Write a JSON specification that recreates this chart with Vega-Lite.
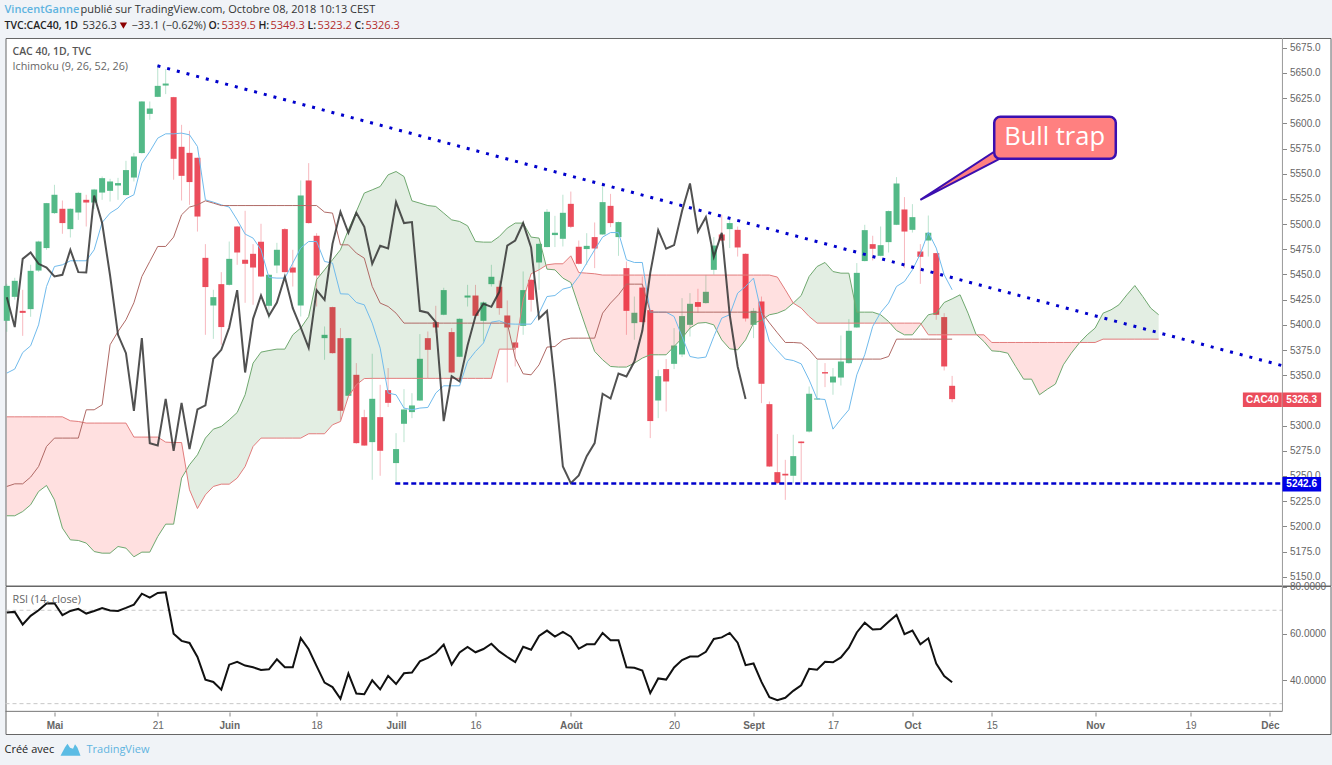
{"$schema":"https://vega.github.io/schema/vega-lite/v6.json","background":"#f0f3f7","padding":{"left":1.5,"right":1,"top":0,"bottom":0},"spacing":0,"bounds":"flush","config":{"axis":{"disable":true},"legend":{"disable":true},"text":{"font":"Open Sans"}},
"datasets":{"d":[
{"i":0,"o":5404,"h":5440.7,"l":5393.1,"c":5438.7,"t":5352.1,"j":5239.6,"k":5427.5,"r":69},
{"i":1,"o":5427.8,"h":5446.7,"l":5425,"c":5443.7,"t":5356.1,"j":5242.2,"k":5397.8,"r":69.3},
{"i":2,"o":5413.9,"h":5434.8,"l":5389.1,"c":5411.9,"t":5372.5,"j":5242.2,"k":5465.5,"r":63.9},
{"i":3,"o":5415.6,"h":5459.6,"l":5408,"c":5453.6,"t":5379.2,"j":5248.9,"k":5471.8,"r":67.6},
{"i":4,"o":5453.9,"h":5483.5,"l":5452.6,"c":5482.7,"t":5400,"j":5259.4,"k":5460.6,"r":70},
{"i":5,"o":5476.2,"h":5521,"l":5474.5,"c":5520.8,"t":5438.1,"j":5279.3,"k":5456.9,"r":72.9},
{"i":6,"o":5510.9,"h":5539,"l":5510,"c":5529.1,"t":5457.9,"j":5287.6,"k":5448,"r":73},
{"i":7,"o":5515.2,"h":5523.4,"l":5490.4,"c":5501,"t":5459.6,"j":5287.6,"k":5449.7,"r":67.9},
{"i":8,"o":5495,"h":5515.5,"l":5486.7,"c":5515.2,"t":5463.6,"j":5287.6,"k":5474.5,"r":69.7},
{"i":9,"o":5511.5,"h":5532,"l":5504.2,"c":5531,"t":5463.6,"j":5287.6,"k":5452.3,"r":70.6},
{"i":10,"o":5524.1,"h":5529.1,"l":5497.6,"c":5521.4,"t":5463.6,"j":5315.7,"k":5451.9,"r":68.6},
{"i":11,"o":5521.4,"h":5535,"l":5515,"c":5534.3,"t":5474.5,"j":5315.7,"k":5528.4,"r":69.7},
{"i":12,"o":5531.3,"h":5547.2,"l":5524.1,"c":5545.6,"t":5501.6,"j":5320.6,"k":5501,"r":71},
{"i":13,"o":5533,"h":5544.9,"l":5522.4,"c":5542.3,"t":5510.9,"j":5380.2,"k":5449,"r":69.9},
{"i":14,"o":5538.3,"h":5545.9,"l":5524.1,"c":5540.7,"t":5515.9,"j":5393.4,"k":5390.1,"r":69.7},
{"i":15,"o":5528.8,"h":5562.8,"l":5528.5,"c":5553.6,"t":5525.1,"j":5405,"k":5371.9,"r":71},
{"i":16,"o":5546.2,"h":5570.7,"l":5542.3,"c":5567.1,"t":5529.1,"j":5421.9,"k":5314.7,"r":72.4},
{"i":17,"o":5570.5,"h":5622,"l":5570,"c":5621.7,"t":5560.5,"j":5448,"k":5386.8,"r":77.1},
{"i":18,"o":5609.4,"h":5621.7,"l":5603.5,"c":5614.7,"t":5572,"j":5462.9,"k":5282.6,"r":75.4},
{"i":19,"o":5626.3,"h":5658.1,"l":5626,"c":5637.2,"t":5585.3,"j":5477.8,"k":5280.2,"r":77.4},
{"i":20,"o":5637.5,"h":5653.8,"l":5629,"c":5639.5,"t":5589.6,"j":5477.8,"k":5326.6,"r":77.7},
{"i":21,"o":5626,"h":5626.3,"l":5544,"c":5564.8,"t":5589.6,"j":5487.1,"k":5275,"r":60},
{"i":22,"o":5576.7,"h":5598.5,"l":5523.4,"c":5547.9,"t":5590.3,"j":5509.2,"k":5322.6,"r":56.9},
{"i":23,"o":5570.7,"h":5592.6,"l":5519.1,"c":5541.7,"t":5588.6,"j":5516.9,"k":5276.7,"r":56},
{"i":24,"o":5565.8,"h":5566,"l":5492.6,"c":5507.5,"t":5577,"j":5519.1,"k":5316,"r":50},
{"i":25,"o":5466.5,"h":5480.1,"l":5390.1,"c":5437.5,"t":5524.1,"j":5523.1,"k":5320,"r":40.3},
{"i":26,"o":5419.2,"h":5434.8,"l":5386.1,"c":5427.5,"t":5521.8,"j":5520.8,"k":5366.3,"r":39.3},
{"i":27,"o":5440.4,"h":5452.3,"l":5380.2,"c":5397.8,"t":5519.1,"j":5518.4,"k":5375.2,"r":36},
{"i":28,"o":5439.7,"h":5482.7,"l":5439,"c":5465.5,"t":5516.9,"j":5518.4,"k":5397.4,"r":46.7},
{"i":29,"o":5497.6,"h":5498,"l":5459.6,"c":5471.8,"t":5504.2,"j":5518.4,"k":5434.5,"r":47.9},
{"i":30,"o":5464.6,"h":5513.2,"l":5421.9,"c":5460.6,"t":5490.1,"j":5518.4,"k":5352.7,"r":46.3},
{"i":31,"o":5470.5,"h":5480.1,"l":5419.9,"c":5456.9,"t":5486.1,"j":5518.4,"k":5406,"r":45.6},
{"i":32,"o":5482.4,"h":5500.3,"l":5447.5,"c":5448,"t":5474.5,"j":5518.4,"k":5429.1,"r":44.4},
{"i":33,"o":5418.9,"h":5450,"l":5405.7,"c":5449.7,"t":5447,"j":5518.4,"k":5409,"r":44.7},
{"i":34,"o":5458.9,"h":5481.4,"l":5451.3,"c":5474.5,"t":5446.4,"j":5518.4,"k":5422.2,"r":49},
{"i":35,"o":5495,"h":5496,"l":5452,"c":5452.3,"t":5446.4,"j":5518.4,"k":5447.7,"r":45.6},
{"i":36,"o":5456.9,"h":5474.5,"l":5438,"c":5451.9,"t":5461.3,"j":5518.4,"k":5416.6,"r":45.6},
{"i":37,"o":5419.2,"h":5543.3,"l":5408.3,"c":5528.4,"t":5476.2,"j":5518.4,"k":5397.4,"r":58.1},
{"i":38,"o":5543.3,"h":5560.5,"l":5500.5,"c":5501,"t":5482.7,"j":5518.4,"k":5377.2,"r":53.3},
{"i":39,"o":5488.4,"h":5491,"l":5418.2,"c":5449,"t":5482.7,"j":5518.4,"k":5434.5,"r":46.1},
{"i":40,"o":5386.8,"h":5398.4,"l":5365.3,"c":5390.1,"t":5462.9,"j":5511.9,"k":5424.8,"r":39},
{"i":41,"o":5417.6,"h":5418,"l":5371.5,"c":5371.9,"t":5461.3,"j":5510.9,"k":5480.4,"r":37.1},
{"i":42,"o":5386.8,"h":5396.8,"l":5305.8,"c":5314.7,"t":5430.8,"j":5479.4,"k":5512.2,"r":32.1},
{"i":43,"o":5329.6,"h":5387,"l":5329,"c":5386.8,"t":5430.5,"j":5479.4,"k":5491.4,"r":42.9},
{"i":44,"o":5350.4,"h":5362,"l":5282,"c":5282.6,"t":5422.2,"j":5471.2,"k":5511.2,"r":34.3},
{"i":45,"o":5308.4,"h":5315.7,"l":5280,"c":5280.2,"t":5419.9,"j":5466.2,"k":5497.3,"r":34},
{"i":46,"o":5283.6,"h":5371.3,"l":5246.2,"c":5326.6,"t":5401.7,"j":5438.1,"k":5460.6,"r":40},
{"i":47,"o":5308.4,"h":5340.5,"l":5250.2,"c":5275,"t":5376.9,"j":5421.6,"k":5478.4,"r":36.1},
{"i":48,"o":5335.2,"h":5357.1,"l":5318.4,"c":5322.6,"t":5332.3,"j":5418.2,"k":5475.8,"r":41.9},
{"i":49,"o":5262.8,"h":5292.5,"l":5242.9,"c":5276.7,"t":5330.6,"j":5411.6,"k":5521.8,"r":38.4},
{"i":50,"o":5301.8,"h":5336.2,"l":5283.6,"c":5316,"t":5317.4,"j":5401.7,"k":5501,"r":43},
{"i":51,"o":5313.4,"h":5332.2,"l":5307.4,"c":5320,"t":5315.7,"j":5401.7,"k":5502,"r":43.3},
{"i":52,"o":5324.9,"h":5390.8,"l":5324.5,"c":5366.3,"t":5317.4,"j":5401.7,"k":5413.9,"r":48.1},
{"i":53,"o":5386.8,"h":5393.4,"l":5347.1,"c":5375.2,"t":5318,"j":5401.7,"k":5412,"r":49.6},
{"i":54,"o":5402.7,"h":5418.9,"l":5392.1,"c":5397.4,"t":5332.3,"j":5401.7,"k":5402.7,"r":51.7},
{"i":55,"o":5410,"h":5436.8,"l":5409.5,"c":5434.5,"t":5339.5,"j":5401.7,"k":5304.5,"r":55.3},
{"i":56,"o":5392.8,"h":5396.8,"l":5352,"c":5352.7,"t":5339.5,"j":5401.7,"k":5349.1,"r":46.7},
{"i":57,"o":5368.3,"h":5406.5,"l":5368,"c":5406,"t":5339.5,"j":5401.7,"k":5343.8,"r":51.9},
{"i":58,"o":5427.1,"h":5439.7,"l":5418.2,"c":5429.1,"t":5363.6,"j":5401.7,"k":5379.5,"r":54.3},
{"i":59,"o":5429.1,"h":5439.7,"l":5408.5,"c":5409,"t":5373.6,"j":5401.7,"k":5408.7,"r":52},
{"i":60,"o":5404,"h":5423.2,"l":5383.5,"c":5422.2,"t":5381.9,"j":5401.7,"k":5420.9,"r":53.4},
{"i":61,"o":5440.4,"h":5459.6,"l":5438,"c":5447.7,"t":5402.7,"j":5401.7,"k":5417.9,"r":55.7},
{"i":62,"o":5437.8,"h":5444,"l":5410,"c":5416.6,"t":5404,"j":5401.7,"k":5432.8,"r":52.4},
{"i":63,"o":5409.3,"h":5424.2,"l":5342.8,"c":5397.4,"t":5401,"j":5401.7,"k":5478.7,"r":50},
{"i":64,"o":5382.5,"h":5383,"l":5358.7,"c":5377.2,"t":5400.7,"j":5367,"k":5483.7,"r":47.8},
{"i":65,"o":5399,"h":5453,"l":5390.1,"c":5434.5,"t":5400.7,"j":5351.4,"k":5501,"r":54.4},
{"i":66,"o":5444.7,"h":5445.5,"l":5413.2,"c":5424.8,"t":5400.7,"j":5350.4,"k":5476.8,"r":53.1},
{"i":67,"o":5461.9,"h":5481,"l":5434.8,"c":5480.4,"t":5411.6,"j":5360.3,"k":5406.3,"r":59},
{"i":68,"o":5477.2,"h":5514.9,"l":5477,"c":5512.2,"t":5428.1,"j":5377.9,"k":5413.9,"r":61.3},
{"i":69,"o":5489.1,"h":5508.2,"l":5477.2,"c":5491.4,"t":5429.1,"j":5378.5,"k":5341.5,"r":58.7},
{"i":70,"o":5485.4,"h":5529.1,"l":5477.8,"c":5511.2,"t":5435.5,"j":5385.1,"k":5259.4,"r":60.7},
{"i":71,"o":5520.1,"h":5532.3,"l":5496,"c":5497.3,"t":5437.5,"j":5386.8,"k":5242.9,"r":58.7},
{"i":72,"o":5477.5,"h":5483.7,"l":5460,"c":5460.6,"t":5448,"j":5386.8,"k":5250.5,"r":53.5},
{"i":73,"o":5475.2,"h":5491,"l":5459.6,"c":5478.4,"t":5461.3,"j":5386.8,"k":5269.7,"r":55.4},
{"i":74,"o":5487.1,"h":5501.6,"l":5456.3,"c":5475.8,"t":5474.5,"j":5386.8,"k":5282.6,"r":55.4},
{"i":75,"o":5489.7,"h":5540.7,"l":5489.5,"c":5521.8,"t":5487.1,"j":5411.6,"k":5331.6,"r":60.3},
{"i":76,"o":5518.1,"h":5530,"l":5497,"c":5501,"t":5491.6,"j":5421.6,"k":5326.9,"r":57.2},
{"i":77,"o":5487.1,"h":5502.5,"l":5468.5,"c":5502,"t":5491.6,"j":5429.8,"k":5351.7,"r":57.2},
{"i":78,"o":5456.3,"h":5462.9,"l":5390.1,"c":5413.9,"t":5464.6,"j":5440.4,"k":5348.7,"r":45.6},
{"i":79,"o":5401.7,"h":5428.1,"l":5385.2,"c":5412,"t":5461.9,"j":5440.4,"k":5363.6,"r":45.4},
{"i":80,"o":5437,"h":5448,"l":5402,"c":5402.7,"t":5461.9,"j":5440.4,"k":5394.1,"r":44.2},
{"i":81,"o":5414.6,"h":5415,"l":5287.6,"c":5304.5,"t":5412.6,"j":5412.6,"k":5451.6,"r":34.5},
{"i":82,"o":5324.9,"h":5355.4,"l":5307.4,"c":5349.1,"t":5412.6,"j":5412.6,"k":5494,"r":40.8},
{"i":83,"o":5356.1,"h":5366,"l":5314,"c":5343.8,"t":5412.6,"j":5412.6,"k":5475.5,"r":40.3},
{"i":84,"o":5361.3,"h":5396.8,"l":5356.1,"c":5379.5,"t":5408.3,"j":5412.6,"k":5479.1,"r":45.5},
{"i":85,"o":5370.6,"h":5426.5,"l":5368,"c":5408.7,"t":5388.4,"j":5412.6,"k":5512.9,"r":48.7},
{"i":86,"o":5400,"h":5431.5,"l":5388.4,"c":5420.9,"t":5368.6,"j":5412.6,"k":5540.3,"r":50.2},
{"i":87,"o":5422.6,"h":5435.8,"l":5411.9,"c":5417.9,"t":5367,"j":5412.6,"k":5492.6,"r":50.2},
{"i":88,"o":5421.6,"h":5449.7,"l":5421,"c":5432.8,"t":5368,"j":5412.6,"k":5506.9,"r":52.2},
{"i":89,"o":5454.6,"h":5487.1,"l":5449.7,"c":5478.7,"t":5388.4,"j":5412.6,"k":5467.5,"r":57.7},
{"i":90,"o":5489.7,"h":5509.2,"l":5483,"c":5483.7,"t":5406.7,"j":5412.6,"k":5491.4,"r":58.4},
{"i":91,"o":5495,"h":5504.2,"l":5476.2,"c":5501,"t":5410,"j":5412.6,"k":5410,"r":60.3},
{"i":92,"o":5494.3,"h":5497.6,"l":5467.8,"c":5476.8,"t":5431.5,"j":5412.6,"k":5358.7,"r":56.1},
{"i":93,"o":5470.5,"h":5471,"l":5403.3,"c":5406.3,"t":5438.1,"j":5412.6,"k":5326.3,"r":46.5},
{"i":94,"o":5400,"h":5416.6,"l":5386.8,"c":5413.9,"t":5446.4,"j":5412.6,"r":47.2},
{"i":95,"o":5423.2,"h":5428.1,"l":5322.3,"c":5341.5,"t":5411.6,"j":5412.6,"r":39.3},
{"i":96,"o":5321.3,"h":5323.9,"l":5259,"c":5259.4,"t":5383.5,"j":5402,"r":32.8},
{"i":97,"o":5253.8,"h":5291.6,"l":5242.5,"c":5242.9,"t":5374.5,"j":5392.1,"r":31.5},
{"i":98,"o":5252.2,"h":5266,"l":5226.3,"c":5250.5,"t":5366,"j":5382.5,"r":32.5},
{"i":99,"o":5250.2,"h":5290.9,"l":5242.9,"c":5269.7,"t":5364.6,"j":5382.5,"r":35.5},
{"i":100,"o":5284.2,"h":5284.5,"l":5242.9,"c":5282.6,"t":5361.3,"j":5381.9,"r":37.9},
{"i":101,"o":5294.1,"h":5338.8,"l":5293.1,"c":5331.6,"t":5345.4,"j":5375.2,"r":44.9},
{"i":102,"o":5325.9,"h":5365.3,"l":5325.5,"c":5326.9,"t":5326.6,"j":5366,"r":44.5},
{"i":103,"o":5353.1,"h":5362,"l":5338.2,"c":5351.7,"t":5325.9,"j":5366,"r":47.9},
{"i":104,"o":5342.8,"h":5357.1,"l":5330.6,"c":5348.7,"t":5296.5,"j":5366,"r":47.7},
{"i":105,"o":5347.7,"h":5389.4,"l":5339.8,"c":5363.6,"t":5306.4,"j":5366,"r":49.8},
{"i":106,"o":5362,"h":5405.7,"l":5361.5,"c":5394.1,"t":5315.7,"j":5366,"r":54},
{"i":107,"o":5397.4,"h":5461.3,"l":5397,"c":5451.6,"t":5350.4,"j":5366,"r":60.5},
{"i":108,"o":5463.3,"h":5499.3,"l":5463,"c":5494,"t":5370.3,"j":5366,"r":64.7},
{"i":109,"o":5480.1,"h":5488.4,"l":5463.9,"c":5475.5,"t":5398.4,"j":5366,"r":61.8},
{"i":110,"o":5468.5,"h":5497.6,"l":5468,"c":5479.1,"t":5412.2,"j":5366,"r":62},
{"i":111,"o":5482.1,"h":5513.5,"l":5471.8,"c":5512.9,"t":5421.6,"j":5368.6,"r":65.1},
{"i":112,"o":5499.3,"h":5546.6,"l":5499,"c":5540.3,"t":5438.1,"j":5385.8,"r":68},
{"i":113,"o":5514.5,"h":5526.8,"l":5456.3,"c":5492.6,"t":5443,"j":5385.8,"r":59.8},
{"i":114,"o":5494.3,"h":5519.8,"l":5491.6,"c":5506.9,"t":5454.6,"j":5385.8,"r":61.3},
{"i":115,"o":5472.8,"h":5480.1,"l":5440.7,"c":5467.5,"t":5470.5,"j":5385.8,"r":55.4},
{"i":116,"o":5483.7,"h":5508.5,"l":5467.8,"c":5491.4,"t":5492,"j":5385.8,"r":58},
{"i":117,"o":5471.2,"h":5471.5,"l":5405,"c":5410,"t":5476.2,"j":5385.8,"r":47.2},
{"i":118,"o":5407.7,"h":5411.6,"l":5354.7,"c":5358.7,"t":5449.7,"j":5385.8,"r":41.8},
{"i":119,"o":5339.5,"h":5349.3,"l":5323.2,"c":5326.3,"t":5434.8,"j":5385.8,"r":39.2}
],
"cloud":[
{"i":0,"a":5210.5,"b":5308.7,"s":0},{"i":1,"a":5210.5,"b":5308.7,"s":0},{"i":2,"a":5214.7,"b":5308.7,"s":0},{"i":3,"a":5221.4,"b":5308.7,"s":0},{"i":4,"a":5234.6,"b":5308.7,"s":0},{"i":5,"a":5240.6,"b":5308.7,"s":0},{"i":6,"a":5226.3,"b":5308.7,"s":0},{"i":7,"a":5198.3,"b":5308.7,"s":0},{"i":8,"a":5186.6,"b":5304.8,"s":0},{"i":9,"a":5186,"b":5304.1,"s":0},{"i":10,"a":5183.4,"b":5302.5,"s":0},{"i":11,"a":5175,"b":5302.5,"s":0},{"i":12,"a":5173.4,"b":5302.5,"s":0},{"i":13,"a":5173.4,"b":5302.5,"s":0},{"i":14,"a":5180,"b":5302.5,"s":0},{"i":15,"a":5178.4,"b":5302.5,"s":0},{"i":16,"a":5169.8,"b":5288.6,"s":0},{"i":17,"a":5174.4,"b":5288.6,"s":0},{"i":18,"a":5174.4,"b":5288.6,"s":0},{"i":19,"a":5189.9,"b":5288.6,"s":0},{"i":20,"a":5202.2,"b":5283.6,"s":0},{"i":21,"a":5202.2,"b":5283.2,"s":0},{"i":22,"a":5247.9,"b":5283.2,"s":0},{"i":22.59,"a":5255.7,"b":5255.7,"s":0},
{"i":22.59,"a":5255.7,"b":5255.7,"s":1},{"i":23,"a":5261.1,"b":5236.3,"s":1},{"i":24,"a":5271,"b":5217.7,"s":1},{"i":25,"a":5287.6,"b":5231.3,"s":1},{"i":26,"a":5296.5,"b":5239.6,"s":1},{"i":27,"a":5299.1,"b":5241.9,"s":1},{"i":28,"a":5305.7,"b":5241.9,"s":1},{"i":29,"a":5313,"b":5247.9,"s":1},{"i":30,"a":5330.6,"b":5259.4,"s":1},{"i":31,"a":5362,"b":5279.3,"s":1},{"i":32,"a":5372.9,"b":5287.6,"s":1},{"i":33,"a":5374.5,"b":5287.6,"s":1},{"i":34,"a":5375.9,"b":5287.6,"s":1},{"i":35,"a":5375.9,"b":5287.6,"s":1},{"i":36,"a":5390.1,"b":5287.6,"s":1},{"i":37,"a":5396.8,"b":5287.6,"s":1},{"i":38,"a":5408.3,"b":5291.9,"s":1},{"i":39,"a":5445,"b":5291.9,"s":1},{"i":40,"a":5454.6,"b":5291.9,"s":1},{"i":41,"a":5464.6,"b":5300.8,"s":1},{"i":42,"a":5474.5,"b":5304.1,"s":1},{"i":43,"a":5494.3,"b":5328.9,"s":1},{"i":44,"a":5512.5,"b":5340.5,"s":1},{"i":45,"a":5530.8,"b":5346.7,"s":1},{"i":46,"a":5534,"b":5346.9,"s":1},{"i":47,"a":5537.3,"b":5346.9,"s":1},{"i":48,"a":5548.9,"b":5346.9,"s":1},{"i":49,"a":5552.2,"b":5346.9,"s":1},{"i":50,"a":5547.2,"b":5346.9,"s":1},{"i":51,"a":5523.1,"b":5346.9,"s":1},{"i":52,"a":5520.8,"b":5346.9,"s":1},{"i":53,"a":5518.4,"b":5346.9,"s":1},{"i":54,"a":5517.5,"b":5346.9,"s":1},{"i":55,"a":5510.9,"b":5346.9,"s":1},{"i":56,"a":5504.2,"b":5346.9,"s":1},{"i":57,"a":5502.6,"b":5346.9,"s":1},{"i":58,"a":5498.3,"b":5346.9,"s":1},{"i":59,"a":5482.7,"b":5346.9,"s":1},{"i":60,"a":5482.1,"b":5346.9,"s":1},{"i":61,"a":5482.1,"b":5346.9,"s":1},{"i":62,"a":5487.7,"b":5375.9,"s":1},{"i":63,"a":5496,"b":5375.9,"s":1},{"i":64,"a":5501,"b":5375.9,"s":1},{"i":65,"a":5501,"b":5424.8,"s":1},{"i":66,"a":5487.1,"b":5450.7,"s":1},{"i":67,"a":5486.1,"b":5454.6,"s":1},{"i":67.88,"a":5459,"b":5459,"s":1},
{"i":67.88,"a":5459,"b":5459,"s":2},{"i":68,"a":5455.3,"b":5459.6,"s":2},{"i":69,"a":5454.6,"b":5460.6,"s":2},{"i":70,"a":5446.4,"b":5460.6,"s":2},{"i":71,"a":5442,"b":5468.5,"s":2},{"i":72,"a":5418.2,"b":5451.9,"s":2},{"i":73,"a":5395.1,"b":5451.3,"s":2},{"i":74,"a":5373.6,"b":5450.7,"s":2},{"i":75,"a":5365.3,"b":5449.4,"s":2},{"i":76,"a":5358.7,"b":5449.4,"s":2},{"i":77,"a":5358.1,"b":5449.4,"s":2},{"i":78,"a":5358.1,"b":5449.4,"s":2},{"i":79,"a":5362,"b":5449.4,"s":2},{"i":80,"a":5367,"b":5449.4,"s":2},{"i":81,"a":5370.3,"b":5449.4,"s":2},{"i":82,"a":5370.3,"b":5449.4,"s":2},{"i":83,"a":5370.3,"b":5449.4,"s":2},{"i":84,"a":5378.5,"b":5449.4,"s":2},{"i":85,"a":5386.8,"b":5449.4,"s":2},{"i":86,"a":5396.8,"b":5449.4,"s":2},{"i":87,"a":5401.7,"b":5449.4,"s":2},{"i":88,"a":5402.3,"b":5449.4,"s":2},{"i":89,"a":5400,"b":5449.4,"s":2},{"i":90,"a":5385.1,"b":5449.4,"s":2},{"i":91,"a":5376.2,"b":5449.4,"s":2},{"i":92,"a":5375.2,"b":5449.4,"s":2},{"i":93,"a":5385.1,"b":5449.4,"s":2},{"i":94,"a":5401.7,"b":5449.4,"s":2},{"i":95,"a":5404.5,"b":5449.4,"s":2},{"i":96,"a":5410,"b":5449.4,"s":2},{"i":97,"a":5411.6,"b":5447.4,"s":2},{"i":98,"a":5414.9,"b":5434.8,"s":2},{"i":99,"a":5421.6,"b":5421.6,"s":2},
{"i":99,"a":5421.6,"b":5421.6,"s":3},{"i":100,"a":5429.1,"b":5416.6,"s":3},{"i":101,"a":5448,"b":5408.3,"s":3},{"i":102,"a":5457.9,"b":5401.7,"s":3},{"i":103,"a":5461.9,"b":5401.7,"s":3},{"i":104,"a":5452.9,"b":5401.7,"s":3},{"i":105,"a":5451.3,"b":5401.7,"s":3},{"i":106,"a":5451.3,"b":5401.7,"s":3},{"i":107,"a":5412.6,"b":5401.7,"s":3},{"i":108,"a":5412.6,"b":5401.7,"s":3},{"i":109,"a":5412.6,"b":5401.7,"s":3},{"i":110,"a":5410,"b":5401.7,"s":3},{"i":111,"a":5403.3,"b":5401.7,"s":3},{"i":111.18,"a":5401.7,"b":5401.7,"s":3},
{"i":111.18,"a":5401.7,"b":5401.7,"s":4},{"i":112,"a":5394.4,"b":5401.7,"s":4},{"i":113,"a":5390.1,"b":5401.7,"s":4},{"i":114,"a":5390.1,"b":5401.7,"s":4},{"i":115,"a":5400,"b":5401.7,"s":4},{"i":115.08,"a":5400.8,"b":5400.8,"s":4},
{"i":115.08,"a":5400.8,"b":5400.8,"s":5},{"i":116,"a":5410,"b":5390.1,"s":5},{"i":117,"a":5411.6,"b":5390.1,"s":5},{"i":118,"a":5422.2,"b":5390.1,"s":5},{"i":119,"a":5425.8,"b":5390.1,"s":5},{"i":120,"a":5429.8,"b":5390.1,"s":5},{"i":121,"a":5411.6,"b":5390.1,"s":5},{"i":122,"a":5390.8,"b":5390.1,"s":5},{"i":122.1,"a":5390.1,"b":5390.1,"s":5},
{"i":122.1,"a":5390.1,"b":5390.1,"s":6},{"i":123,"a":5383.5,"b":5390.1,"s":6},{"i":124,"a":5374.2,"b":5382.5,"s":6},{"i":125,"a":5373.6,"b":5382.5,"s":6},{"i":126,"a":5371.9,"b":5382.5,"s":6},{"i":127,"a":5358.7,"b":5382.5,"s":6},{"i":128,"a":5346.1,"b":5382.5,"s":6},{"i":129,"a":5346.1,"b":5382.5,"s":6},{"i":130,"a":5330.6,"b":5382.5,"s":6},{"i":131,"a":5336.2,"b":5382.5,"s":6},{"i":132,"a":5341.2,"b":5382.5,"s":6},{"i":133,"a":5360.3,"b":5382.5,"s":6},{"i":134,"a":5371.9,"b":5382.5,"s":6},{"i":135,"a":5381.9,"b":5382.5,"s":6},{"i":135.07,"a":5382.5,"b":5382.5,"s":6},
{"i":135.07,"a":5382.5,"b":5382.5,"s":7},{"i":136,"a":5390.1,"b":5382.5,"s":7},{"i":137,"a":5396.8,"b":5382.5,"s":7},{"i":138,"a":5411.6,"b":5385.8,"s":7},{"i":139,"a":5414.9,"b":5385.8,"s":7},{"i":140,"a":5419.9,"b":5385.8,"s":7},{"i":141,"a":5429.8,"b":5385.8,"s":7},{"i":142,"a":5439,"b":5385.8,"s":7},{"i":143,"a":5428.1,"b":5385.8,"s":7},{"i":144,"a":5416.6,"b":5385.8,"s":7},{"i":145,"a":5410,"b":5385.8,"s":7}
]},
"vconcat":[
{"width":1325,"height":37.7,"view":{"stroke":null,"fill":null},"data":{"values":[{}]},"layer":[
{"mark":{"type":"text","align":"left","color":"#5fb3e0","fontSize":11,"fontWeight":600},"encoding":{"x":{"datum":-0.29,"scale":{"domain":[-0.164,166.63],"nice":false,"zero":false}},"y":{"datum":0.744,"scale":{"domain":[0,1],"nice":false}},"text":{"value":"VincentGanne"}}},
{"mark":{"type":"text","align":"left","color":"#333","fontSize":11},"encoding":{"x":{"datum":9.28},"y":{"datum":0.744},"text":{"value":"publié sur TradingView.com, Octobre 08, 2018 10:13 CEST"}}},
{"mark":{"type":"text","align":"left","color":"#222","fontSize":10.5,"fontWeight":600},"encoding":{"x":{"datum":-0.29},"y":{"datum":0.32},"text":{"value":"TVC:CAC40, 1D"}}},
{"mark":{"type":"text","align":"left","color":"#333","fontSize":11},"encoding":{"x":{"datum":9.53},"y":{"datum":0.32},"text":{"value":"5326.3"}}},
{"mark":{"type":"point","shape":"triangle-down","filled":true,"color":"#8b0000","size":55,"opacity":1},"encoding":{"x":{"datum":14.68},"y":{"datum":0.32}}},
{"mark":{"type":"text","align":"left","color":"#333","fontSize":11},"encoding":{"x":{"datum":15.7},"y":{"datum":0.32},"text":{"value":"−33.1 (−0.62%)"}}},
{"mark":{"type":"text","align":"left","color":"#222","fontSize":10.5,"fontWeight":600},"encoding":{"x":{"datum":25.39},"y":{"datum":0.32},"text":{"value":"O:"}}},
{"mark":{"type":"text","align":"left","color":"#b22c2c","fontSize":11},"encoding":{"x":{"datum":27.03},"y":{"datum":0.32},"text":{"value":"5339.5"}}},
{"mark":{"type":"text","align":"left","color":"#222","fontSize":10.5,"fontWeight":600},"encoding":{"x":{"datum":31.68},"y":{"datum":0.32},"text":{"value":"H:"}}},
{"mark":{"type":"text","align":"left","color":"#b22c2c","fontSize":11},"encoding":{"x":{"datum":33.19},"y":{"datum":0.32},"text":{"value":"5349.3"}}},
{"mark":{"type":"text","align":"left","color":"#222","fontSize":10.5,"fontWeight":600},"encoding":{"x":{"datum":37.85},"y":{"datum":0.32},"text":{"value":"L:"}}},
{"mark":{"type":"text","align":"left","color":"#b22c2c","fontSize":11},"encoding":{"x":{"datum":39.11},"y":{"datum":0.32},"text":{"value":"5323.2"}}},
{"mark":{"type":"text","align":"left","color":"#222","fontSize":10.5,"fontWeight":600},"encoding":{"x":{"datum":43.77},"y":{"datum":0.32},"text":{"value":"C:"}}},
{"mark":{"type":"text","align":"left","color":"#b22c2c","fontSize":11},"encoding":{"x":{"datum":45.15},"y":{"datum":0.32},"text":{"value":"5326.3"}}}
]},
{"width":1325,"height":547.5,"view":{"stroke":"#666","fill":"#ffffff"},"data":{"values":[{}]},"resolve":{"axis":{"x":"independent","y":"independent"}},"layer":[
{"data":{"name":"d"},"mark":{"type":"rule","strokeWidth":1,"opacity":0.4},"encoding":{"x":{"field":"i","type":"quantitative","scale":{"domain":[-0.164,166.63],"nice":false,"zero":false,"padding":0}},"y":{"field":"l","type":"quantitative","scale":{"domain":[5141.3,5684.7],"nice":false,"zero":false},"axis":{"orient":"right","offset":-48,"title":null,"domain":false,"grid":false,"values":[5150,5175,5200,5225,5250,5275,5300,5350,5375,5400,5425,5450,5475,5500,5525,5550,5575,5600,5625,5650,5675],"format":".1f","tickColor":"#888","tickSize":4,"labelColor":"#666","labelFont":"Liberation Sans","labelFontSize":10,"labelPadding":3,"labelBound":false,"labelFlush":false,"labelOverlap":false}},"y2":{"field":"h"},"color":{"condition":{"test":"datum.c>=datum.o","value":"#53b987"},"value":"#eb4d5c"}}},
{"data":{"name":"d"},"mark":{"type":"bar","size":6},"encoding":{"x":{"field":"i","type":"quantitative"},"y":{"field":"o","type":"quantitative"},"y2":{"field":"c"},"color":{"condition":{"test":"datum.c>=datum.o","value":"#53b987"},"value":"#eb4d5c"}}},
{"data":{"name":"cloud"},"mark":{"type":"area","line":false},"encoding":{"x":{"field":"i","type":"quantitative"},"y":{"field":"a","type":"quantitative"},"y2":{"field":"b"},"color":{"field":"s","type":"nominal","legend":null,"scale":{"domain":[0,1,2,3,4,5,6,7],"range":["rgba(255,0,0,0.12)","rgba(0,100,0,0.11)","rgba(255,0,0,0.12)","rgba(0,100,0,0.11)","rgba(255,0,0,0.12)","rgba(0,100,0,0.11)","rgba(255,0,0,0.12)","rgba(0,100,0,0.11)"]}}}},
{"data":{"name":"cloud"},"mark":{"type":"line","color":"#6fa86f","strokeWidth":1},"encoding":{"x":{"field":"i","type":"quantitative"},"y":{"field":"a","type":"quantitative"}}},
{"data":{"name":"cloud"},"mark":{"type":"line","color":"#e27c7c","strokeWidth":1},"encoding":{"x":{"field":"i","type":"quantitative"},"y":{"field":"b","type":"quantitative"}}},
{"data":{"name":"d"},"mark":{"type":"line","color":"#71bbec","strokeWidth":1},"encoding":{"x":{"field":"i","type":"quantitative"},"y":{"field":"t","type":"quantitative"}}},
{"data":{"name":"d"},"mark":{"type":"line","color":"#b06a66","strokeWidth":1},"encoding":{"x":{"field":"i","type":"quantitative"},"y":{"field":"j","type":"quantitative"}}},
{"data":{"name":"d"},"mark":{"type":"line","color":"#333333","strokeWidth":2,"opacity":0.85},"encoding":{"x":{"field":"i","type":"quantitative"},"y":{"field":"k","type":"quantitative"}}},
{"data":{"values":[{"i":18.97,"p":5657.1},{"i":160.6,"p":5359.4}]},"mark":{"type":"line","color":"#0000cc","strokeWidth":3,"strokeDash":[3,7]},"encoding":{"x":{"field":"i","type":"quantitative"},"y":{"field":"p","type":"quantitative"}}},
{"data":{"values":[{"i":48.9,"p":5242.6},{"i":160.6,"p":5242.6}]},"mark":{"type":"line","color":"#0000cc","strokeWidth":2.5,"strokeDash":[5,3]},"encoding":{"x":{"field":"i","type":"quantitative"},"y":{"field":"p","type":"quantitative"}}},
{"mark":{"type":"rule","color":"#999","strokeWidth":1},"encoding":{"x":{"datum":160.58},"y":{"datum":5141.3},"y2":{"datum":5684.7}}},
{"data":{"values":[{"i":115,"u":5524.1,"v":5524.1},{"i":124.3,"u":5571.8,"v":5562.1},{"i":125.2,"u":5565.8,"v":5565.8}]},"mark":{"type":"area","fill":"#ff8080","stroke":"#3b0fb0","strokeWidth":2},"encoding":{"x":{"field":"i","type":"quantitative"},"y":{"field":"u","type":"quantitative"},"y2":{"field":"v"}}},
{"mark":{"type":"rect","fill":"#ff8080","stroke":"#3b0fb0","strokeWidth":2.5,"cornerRadius":6},"encoding":{"x":{"datum":124.3},"x2":{"datum":139.6},"y":{"datum":5606.5},"y2":{"datum":5564.8}}},
{"mark":{"type":"text","color":"#ffffff","fontSize":25.5,"font":"Open Sans"},"encoding":{"x":{"datum":131.9},"y":{"datum":5586.7},"text":{"value":"Bull trap"}}},
{"mark":{"type":"text","align":"left","color":"#555","fontSize":10.5,"fontWeight":600},"encoding":{"x":{"datum":0.72},"y":{"datum":5671},"text":{"value":"CAC 40, 1D, TVC"}}},
{"mark":{"type":"text","align":"left","color":"#666","fontSize":10.8},"encoding":{"x":{"datum":0.72},"y":{"datum":5656.1},"text":{"value":"Ichimoku (9, 26, 52, 26)"}}},
{"mark":{"type":"rect","fill":"#eb4d5c"},"encoding":{"x":{"datum":155.6},"x2":{"datum":160.5},"y":{"datum":5332.8},"y2":{"datum":5318.4}}},
{"mark":{"type":"rect","fill":"#eb4d5c"},"encoding":{"x":{"datum":160.58},"x2":{"datum":165.45},"y":{"datum":5332.8},"y2":{"datum":5318.4}}},
{"mark":{"type":"rect","fill":"#0000e6"},"encoding":{"x":{"datum":160.58},"x2":{"datum":165.45},"y":{"datum":5248.9},"y2":{"datum":5234.6}}},
{"mark":{"type":"text","color":"#ffffff","fontSize":10,"fontWeight":"bold","font":"Liberation Sans"},"encoding":{"x":{"datum":158.05},"y":{"datum":5325.6},"text":{"value":"CAC40"}}},
{"mark":{"type":"text","color":"#ffffff","fontSize":10,"fontWeight":"bold","font":"Liberation Sans"},"encoding":{"x":{"datum":163},"y":{"datum":5325.6},"text":{"value":"5326.3"}}},
{"mark":{"type":"text","color":"#ffffff","fontSize":10,"fontWeight":"bold","font":"Liberation Sans"},"encoding":{"x":{"datum":163},"y":{"datum":5241.8},"text":{"value":"5242.6"}}}
]},
{"width":1325,"height":148,"view":{"stroke":"#666","fill":"#ffffff"},"data":{"values":[{}]},"resolve":{"axis":{"x":"independent","y":"independent"}},"layer":[
{"mark":{"type":"rule","color":"#c8c8c8","strokeWidth":1,"strokeDash":[4,3]},"encoding":{"x":{"datum":-0.164,"scale":{"domain":[-0.164,166.63],"nice":false,"zero":false},"axis":{"orient":"bottom","offset":-22,"title":null,"domain":false,"grid":false,"values":[6,19,28,39,49,59,71,84,94,104,114,124,137,149,159],"tickColor":"#888","tickSize":4,"labelColor":"#666","labelFont":"Liberation Sans","labelFontSize":10,"labelPadding":4,"labelBound":false,"labelFlush":false,"labelOverlap":false,"labelExpr":"['Mai','21','Juin','18','Juill','16','Août','20','Sept','17','Oct','15','Nov','19','Déc'][indexof([6,19,28,39,49,59,71,84,94,104,114,124,137,149,159],datum.value)]","labelFontWeight":{"condition":{"test":"indexof([6,28,49,71,94,114,137,159],datum.value)>=0","value":"bold"},"value":"normal"}}},"x2":{"datum":160.58},"y":{"datum":70,"scale":{"domain":[17,80.4],"nice":false,"zero":false},"axis":{"orient":"right","offset":-48,"title":null,"domain":false,"grid":false,"values":[40,60,80],"format":".4f","tickColor":"#888","tickSize":4,"labelColor":"#666","labelFont":"Liberation Sans","labelFontSize":10,"labelPadding":3,"labelBound":false,"labelFlush":false,"labelOverlap":false}}}},
{"mark":{"type":"rule","color":"#c8c8c8","strokeWidth":1,"strokeDash":[4,3]},"encoding":{"x":{"datum":-0.164},"x2":{"datum":160.58},"y":{"datum":30}}},
{"mark":{"type":"rule","color":"#777","strokeWidth":1},"encoding":{"x":{"datum":-0.164},"x2":{"datum":160.58},"y":{"datum":26.7}}},
{"mark":{"type":"rule","color":"#999","strokeWidth":1},"encoding":{"x":{"datum":160.58},"y":{"datum":26.7},"y2":{"datum":80.4}}},
{"data":{"name":"d"},"mark":{"type":"line","color":"#111111","strokeWidth":2},"encoding":{"x":{"field":"i","type":"quantitative"},"y":{"field":"r","type":"quantitative"}}},
{"mark":{"type":"text","align":"left","color":"#666","fontSize":10.8},"encoding":{"x":{"datum":0.72},"y":{"datum":74.3},"text":{"value":"RSI (14, close)"}}}
]},
{"width":1325,"height":31.3,"view":{"stroke":null,"fill":null},"data":{"values":[{}]},"layer":[
{"mark":{"type":"text","align":"left","color":"#222","fontSize":11},"encoding":{"x":{"datum":-0.29,"scale":{"domain":[-0.164,166.63],"nice":false,"zero":false}},"y":{"datum":0.5,"scale":{"domain":[0,1],"nice":false}},"text":{"value":"Créé avec"}}},
{"mark":{"type":"point","filled":true,"opacity":1,"color":"#5bbce4","size":400,"shape":"M-1,.6 L-.55,-.25 L-.3,-.6 L-.05,-.2 L.25,-.1 L.45,-.55 L.7,-.2 L1,.6 Z"},"encoding":{"x":{"datum":8.02},"y":{"datum":0.5}}},
{"mark":{"type":"text","align":"left","color":"#5fb3e0","fontSize":11},"encoding":{"x":{"datum":10.03},"y":{"datum":0.5},"text":{"value":"TradingView"}}}
]}
]}
